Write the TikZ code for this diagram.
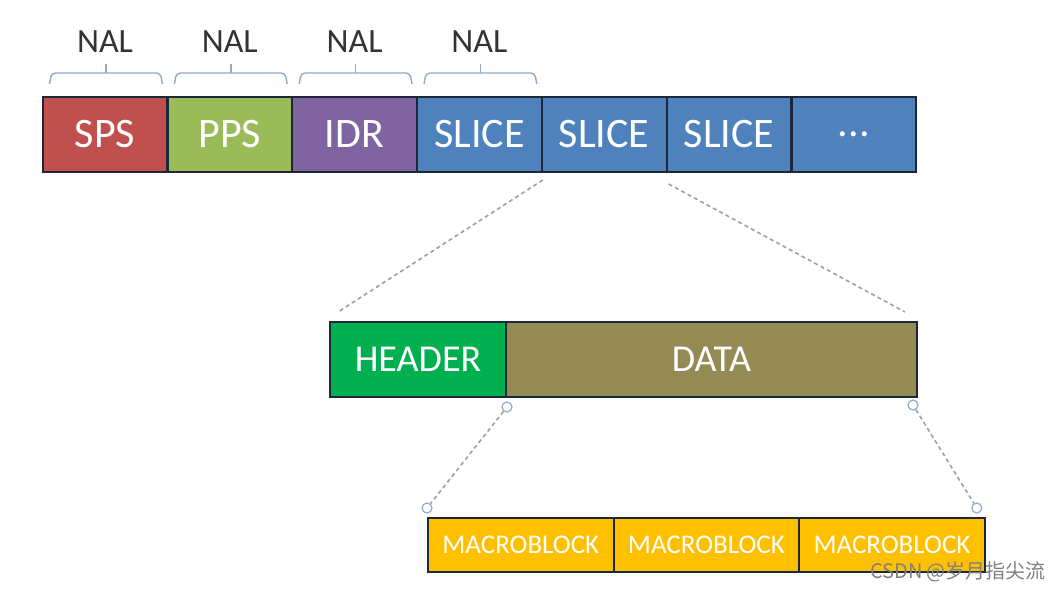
\documentclass[tikz,border=0pt]{standalone}
\usepackage{fontspec}
\setmainfont{Carlito}
\newfontfamily\cjk{Noto Sans CJK SC}
\usetikzlibrary{positioning,calc}

\definecolor{spsred}{HTML}{C0504D}
\definecolor{ppsgreen}{HTML}{9BBB59}
\definecolor{idrpurple}{HTML}{8064A2}
\definecolor{sliceblue}{HTML}{4F81BD}
\definecolor{hdrgreen}{HTML}{00B050}
\definecolor{dataolive}{HTML}{948A54}
\definecolor{mbyellow}{HTML}{FFC000}
\definecolor{edgenavy}{HTML}{1C2838}
\definecolor{bracecol}{HTML}{8FAACB}

\tikzset{
  seg/.style={draw=edgenavy, line width=1.1pt, fill=#1, text=white, inner sep=0pt, outer sep=0pt},
  topseg/.style={seg=#1, minimum width=62.4pt, minimum height=37.5pt, font=\fontsize{21}{21}\selectfont},
  midseg/.style={seg=#1, minimum height=37.5pt, font=\fontsize{19}{19}\selectfont},
  mbseg/.style={seg=mbyellow, minimum width=92.8pt, minimum height=27pt, font=\fontsize{13.5}{13.5}\selectfont},
  nalbrace/.style={draw=bracecol, line width=0.7pt, rounded corners=2pt},
  nallab/.style={text=black!80, font=\fontsize{17}{17}\selectfont, anchor=base, inner sep=0pt},
  zoomline/.style={draw=gray!75, line width=0.8pt, dash pattern=on 2pt off 1.6pt},
  handle/.style={circle, draw=bracecol, fill=white, line width=0.6pt, minimum size=5pt, inner sep=0pt}
}

\begin{document}
\begin{tikzpicture}[x=0.5pt, y=-0.5pt]
\useasboundingbox (0,0) rectangle (1060,591);

% stream of NAL units
\node[topseg=spsred] (sps) at (105,134.5) {SPS};
\node[topseg=ppsgreen, right=0pt of sps] (pps) {PPS};
\node[topseg=idrpurple, right=0pt of pps] (idr) {IDR};
\node[topseg=sliceblue, right=0pt of idr] (slice1) {SLICE};
\node[topseg=sliceblue, right=0pt of slice1] (slice2) {SLICE};
\node[topseg=sliceblue, right=0pt of slice2] (slice3) {SLICE};
\node[topseg=sliceblue, right=0pt of slice3] (more) {...};

% braces
\foreach \b in {sps,pps,idr,slice1}{
  \coordinate (bl-\b) at ($(\b.north west)+(7,-13)$);
  \coordinate (br-\b) at ($(\b.north east)+(-5,-13)$);
  \coordinate (bm-\b) at ($(bl-\b)!0.5!(br-\b)+(0,-11)$);
  \draw[nalbrace] (bl-\b) -- ++(2,-11) -- (bm-\b) -- ($(br-\b)+(-2,-11)$) -- (br-\b);
  \draw[nalbrace] (bm-\b) -- ++(0,-9);
  \node[nallab] (nal-\b) at ($(\b.north)+(0,-45)$) {NAL};
}

% slice
\node[midseg=hdrgreen, minimum width=88pt, anchor=west] (header) at (330,359.5) {HEADER};
\node[midseg=dataolive, minimum width=205.5pt, right=0pt of header] (data) {DATA};

% macroblocks
\node[mbseg, anchor=west] (mb1) at (428,545) {MACROBLOCK};
\node[mbseg, right=0pt of mb1] (mb2) {MACROBLOCK};
\node[mbseg, right=0pt of mb2] (mb3) {MACROBLOCK};

% zoom lines
\draw[zoomline] ($(slice2.south west)+(1,8)$) -- ($(header.north west)+(8,-10)$);
\draw[zoomline] ($(slice2.south east)+(2,12)$) -- ($(data.north east)+(-12,-10)$);

\node[handle] (h1) at ($(data.south west)+(1,10)$) {};
\node[handle] (h2) at ($(data.south east)+(-4,8)$) {};
\node[handle] (h3) at ($(mb1.north west)+(-1,-10)$) {};
\node[handle] (h4) at ($(mb3.north east)+(-8,-10)$) {};
\draw[zoomline] (h1) -- (h3);
\draw[zoomline] (h2) -- (h4);

\node[text=gray, font=\cjk\fontsize{10}{10}\selectfont, inner sep=0pt] (mark) at (958,572) {CSDN @岁月指尖流};
\end{tikzpicture}
\end{document}
